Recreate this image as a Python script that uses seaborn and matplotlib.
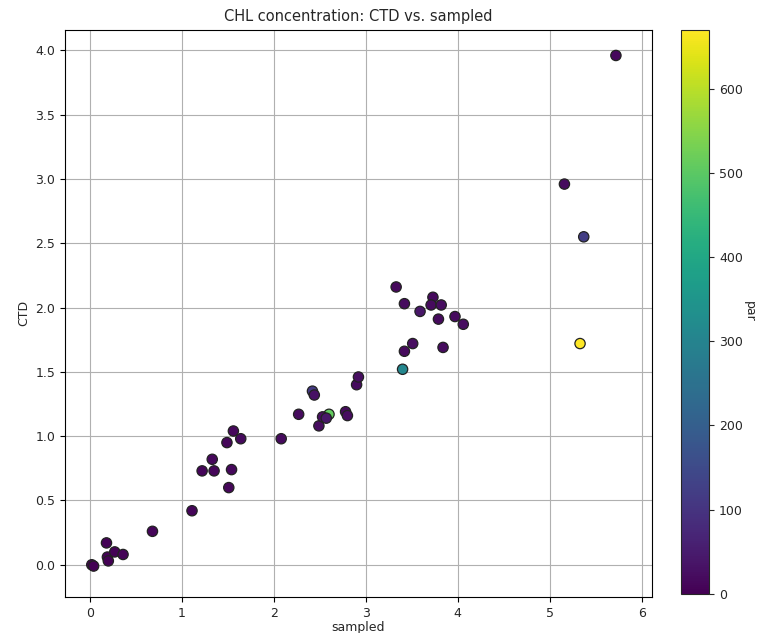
import matplotlib
matplotlib.use("Agg")
import matplotlib.pyplot as plt
import seaborn as sns
import pandas as pd
import numpy as np

sampled = [0.02, 0.04, 0.18, 0.19, 0.20, 0.27, 0.36, 0.68, 1.11, 1.51,
           1.22, 1.35, 1.33, 1.54, 1.49, 1.56, 1.64, 2.08, 2.27, 2.60,
           2.49, 2.53, 2.57, 2.78, 2.80, 2.42, 2.44, 2.90, 2.92, 3.40,
           3.42, 3.51, 3.84, 3.33, 3.42, 3.59, 3.73, 3.71, 3.82, 3.79,
           3.97, 4.06, 5.16, 5.37, 5.33, 5.72]
ctd = [0.00, -0.01, 0.17, 0.06, 0.03, 0.10, 0.08, 0.26, 0.42, 0.60,
       0.73, 0.73, 0.82, 0.74, 0.95, 1.04, 0.98, 0.98, 1.17, 1.17,
       1.08, 1.15, 1.14, 1.19, 1.16, 1.35, 1.32, 1.40, 1.46, 1.52,
       1.66, 1.72, 1.69, 2.16, 2.03, 1.97, 2.08, 2.02, 2.02, 1.91,
       1.93, 1.87, 2.96, 2.55, 1.72, 3.96]
par = [0, 2, 5, 3, 2, 4, 6, 8, 10, 12,
       10, 12, 15, 14, 12, 14, 16, 18, 20, 510,
       22, 25, 40, 20, 22, 110, 30, 20, 24, 310,
       18, 22, 20, 15, 20, 40, 18, 20, 22, 18,
       20, 22, 20, 120, 670, 15]

df = pd.DataFrame({"sampled": sampled, "CTD": ctd, "par": par})

sns.set_style("ticks")
plt.rcParams["font.family"] = ["DejaVu Sans"]

fig = plt.figure(figsize=(7.57, 6.33), dpi=100)
ax = fig.add_axes([0.086, 0.057, 0.775, 0.896])
cax = fig.add_axes([0.900, 0.062, 0.037, 0.891])

vmin, vmax = min(par), max(par)
norm = matplotlib.colors.Normalize(vmin=vmin, vmax=vmax)
sns.scatterplot(data=df, x="sampled", y="CTD", hue="par", palette="viridis",
                hue_norm=norm, s=55, edgecolor="#222222", linewidth=0.9,
                legend=False, ax=ax, zorder=3)

ax.set_xlim(-0.27, 6.11)
ax.set_ylim(-0.25, 4.16)
ax.set_xticks([0, 1, 2, 3, 4, 5, 6])
ax.set_yticks(np.arange(0, 4.01, 0.5))
ax.set_yticklabels([f"{v:.1f}" for v in np.arange(0, 4.01, 0.5)])
ax.grid(True, color="#b0b0b0", linewidth=0.8)
ax.set_axisbelow(True)
for sp in ax.spines.values():
    sp.set_color("black")
    sp.set_linewidth(0.8)
ax.tick_params(labelsize=9, length=3.5, width=0.8, color="black")
ax.set_xlabel("sampled", fontsize=9, labelpad=1)
ax.set_ylabel("CTD", fontsize=9)
ax.set_title("CHL concentration: CTD vs. sampled", fontsize=10.5, pad=6)

sm = matplotlib.cm.ScalarMappable(norm=norm, cmap="viridis")
cb = fig.colorbar(sm, cax=cax)
cb.set_ticks([0, 100, 200, 300, 400, 500, 600])
cb.ax.tick_params(labelsize=9, length=3.5, width=0.8)
cb.set_label("par", rotation=270, fontsize=9, labelpad=9)
cb.outline.set_linewidth(0.8)

fig.savefig("out.png", dpi=100)
